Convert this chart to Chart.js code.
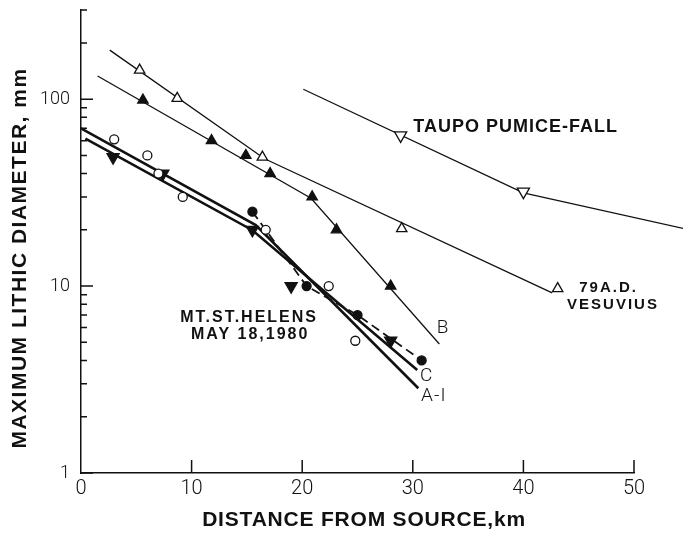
<!DOCTYPE html>
<html lang="en">
<head>
  <meta charset="UTF-8">
  <title>Maximum lithic diameter vs distance from source</title>
  <script src="https://cdn.jsdelivr.net/npm/chart.js"></script>
  <style>
    body { margin: 0; background: #fff; }
    #wrap { width: 683px; height: 535px; }
  </style>
</head>
<body>

<div id="wrap"><canvas id="chart" width="683" height="535"></canvas></div>

<script>
// ticks
const xTicks = [0, 10, 20, 30, 40, 50];
const yMajorTicks = [1, 10, 100];
const yMinorTicks = [2, 3, 4, 5, 6, 7, 8, 9, 20, 30, 40, 50, 60, 70, 80, 90, 200, 300];

// 79 A.D. Vesuvius : open triangles + fitted line   [km, mm]
const vesuviusPts = [[5.3, 143], [8.7, 101], [16.4, 49], [29.0, 20.3], [43.1, 9.7]];
const vesuviusFit = [[2.6, 183], [16.6, 48], [42.6, 9.2]];

// Taupo pumice-fall
const taupoPts = [[28.9, 64], [40.0, 32]];
const taupoFit = [[20.1, 113], [40.0, 31.5], [55, 20]];

// Mt St Helens unit B
const unitBPts = [[5.6, 99], [11.8, 60], [14.9, 50], [17.1, 40], [20.9, 30], [23.1, 20], [28.0, 10]];
const unitBFit = [[1.5, 133], [20.8, 29.5], [32.4, 4.9]];

// Mt St Helens units A-I and C
const openCircles = [[3.0, 61], [6.0, 50], [7.0, 40], [9.2, 30], [16.7, 20], [22.4, 10], [24.8, 5.1]];
const downTriangles = [[2.9, 49], [7.4, 40], [15.5, 20], [19.0, 10], [28.0, 5.1]];
const filledCircles = [[15.5, 25], [20.4, 10], [25.0, 7.0], [30.8, 4.0]];
const fitAI = [[0, 69.7], [15.8, 21.2], [30.5, 2.84]];
const fitC = [[0.4, 61.5], [15.5, 19.9], [30.4, 3.56]];

const xTitle = 'DISTANCE FROM SOURCE,km';
const yTitle = 'MAXIMUM LITHIC DIAMETER, mm';

const ink = '#111';
const thinFont = "'Roboto', 'DejaVu Sans', sans-serif";
const boldFont = "'Liberation Sans', Arial, sans-serif";

const xy = arr => arr.map(([x, y]) => ({ x, y }));

// text written on the plot, placed in data units
const notes = [
  { text: 'TAUPO PUMICE-FALL', x: 39.3, y: 70.9, size: 18, bold: true, sp: 1 },
  { text: '79A.D.', x: 47.7, y: 9.78, size: 15, bold: true, sp: 2 },
  { text: 'VESUVIUS', x: 48.1, y: 7.92, size: 15, bold: true, sp: 2 },
  { text: 'MT.ST.HELENS', x: 15.2, y: 6.82, size: 16, bold: true, sp: 2 },
  { text: 'MAY 18,1980', x: 15.3, y: 5.47, size: 16, bold: true, sp: 2 },
  { text: 'B', x: 32.7, y: 5.96, size: 19, bold: false, sp: 0 },
  { text: 'C', x: 31.2, y: 3.30, size: 19, bold: false, sp: 0 },
  { text: 'A-I', x: 31.9, y: 2.58, size: 19, bold: false, sp: 1 }
];

// inward tick marks, axis titles (letter-spaced) + annotations
const decor = {
  id: 'decor',
  afterDraw(chart) {
    const { ctx, chartArea, scales } = chart;
    ctx.save();
    ctx.strokeStyle = ink;
    ctx.lineWidth = 1.5;
    ctx.beginPath();
    yMajorTicks.forEach(v => {
      const py = scales.y.getPixelForValue(v);
      ctx.moveTo(chartArea.left, py); ctx.lineTo(chartArea.left + 12, py);
    });
    yMinorTicks.forEach(v => {
      const py = scales.y.getPixelForValue(v);
      ctx.moveTo(chartArea.left, py); ctx.lineTo(chartArea.left + 6, py);
    });
    xTicks.slice(1).forEach(v => {
      const px = scales.x.getPixelForValue(v);
      ctx.moveTo(px, chartArea.bottom); ctx.lineTo(px, chartArea.bottom - 13);
    });
    ctx.stroke();

    ctx.fillStyle = ink;
    ctx.textAlign = 'center';
    ctx.textBaseline = 'middle';

    ctx.font = 'bold 21px ' + boldFont;
    ctx.letterSpacing = '0.8px';
    ctx.fillText(xTitle, chartArea.left + 283, 520);
    ctx.save();
    ctx.translate(20, chartArea.top + 248);
    ctx.rotate(-Math.PI / 2);
    ctx.letterSpacing = '1.5px';
    ctx.fillText(yTitle, 0, 0);
    ctx.restore();

    notes.forEach(n => {
      ctx.font = (n.bold ? 'bold ' : '300 ') + n.size + 'px ' + (n.bold ? boldFont : thinFont);
      ctx.letterSpacing = n.sp + 'px';
      ctx.fillText(n.text, scales.x.getPixelForValue(n.x), scales.y.getPixelForValue(n.y));
    });
    ctx.restore();
  }
};

const marker = (data, style, radius, filled, rotation) => ({
  data: xy(data), showLine: false, pointStyle: style, pointRadius: radius,
  pointRotation: rotation || 0, pointBackgroundColor: filled ? ink : '#fff',
  pointBorderColor: ink, pointBorderWidth: 1.3
});
const fitLine = (data, width, dash) => ({
  data: xy(data), showLine: true, pointRadius: 0, borderColor: ink,
  borderWidth: width, borderDash: dash || [], clip: false
});

new Chart(document.getElementById('chart'), {
  type: 'scatter',
  data: {
    datasets: [
      marker(vesuviusPts, 'triangle', 6, false),
      marker(taupoPts, 'triangle', 7, false, 180),
      marker(unitBPts, 'triangle', 6, true),
      marker(openCircles, 'circle', 4.5, false),
      marker(downTriangles, 'triangle', 7, true, 180),
      marker(filledCircles, 'circle', 4.5, true),
      fitLine(vesuviusFit, 1.3),
      fitLine(taupoFit, 1.3),
      fitLine(unitBFit, 1.3),
      fitLine(fitAI, 2.6),
      fitLine(fitC, 2.6),
      fitLine(filledCircles, 1.8, [9, 5])
    ]
  },
  options: {
    responsive: false,
    animation: false,
    layout: { padding: { top: 10, right: 49, left: 0, bottom: 0 } },
    plugins: { legend: { display: false }, tooltip: { enabled: false } },
    scales: {
      x: {
        type: 'linear', min: 0, max: 50,
        afterBuildTicks: s => { s.ticks = xTicks.map(v => ({ value: v })); },
        afterFit: s => { s.height = 62; s.paddingLeft = 0; s.paddingRight = 0; },
        grid: { drawOnChartArea: false, drawTicks: false },
        border: { color: ink, width: 1.5 },
        ticks: { color: ink, padding: 4, maxRotation: 0, font: { family: thinFont, size: 20, weight: 300 } },
        title: { display: false }
      },
      y: {
        type: 'logarithmic', min: 1, max: 300,
        afterBuildTicks: s => { s.ticks = yMajorTicks.map(v => ({ value: v })); },
        afterFit: s => { s.width = 81; s.paddingTop = 0; s.paddingBottom = 0; },
        grid: { drawOnChartArea: false, drawTicks: false },
        border: { color: ink, width: 1.5 },
        ticks: { color: ink, padding: 11, callback: v => String(v), font: { family: thinFont, size: 18, weight: 300 } },
        title: { display: false }
      }
    }
  },
  plugins: [decor]
});
</script>

</body>
</html>
